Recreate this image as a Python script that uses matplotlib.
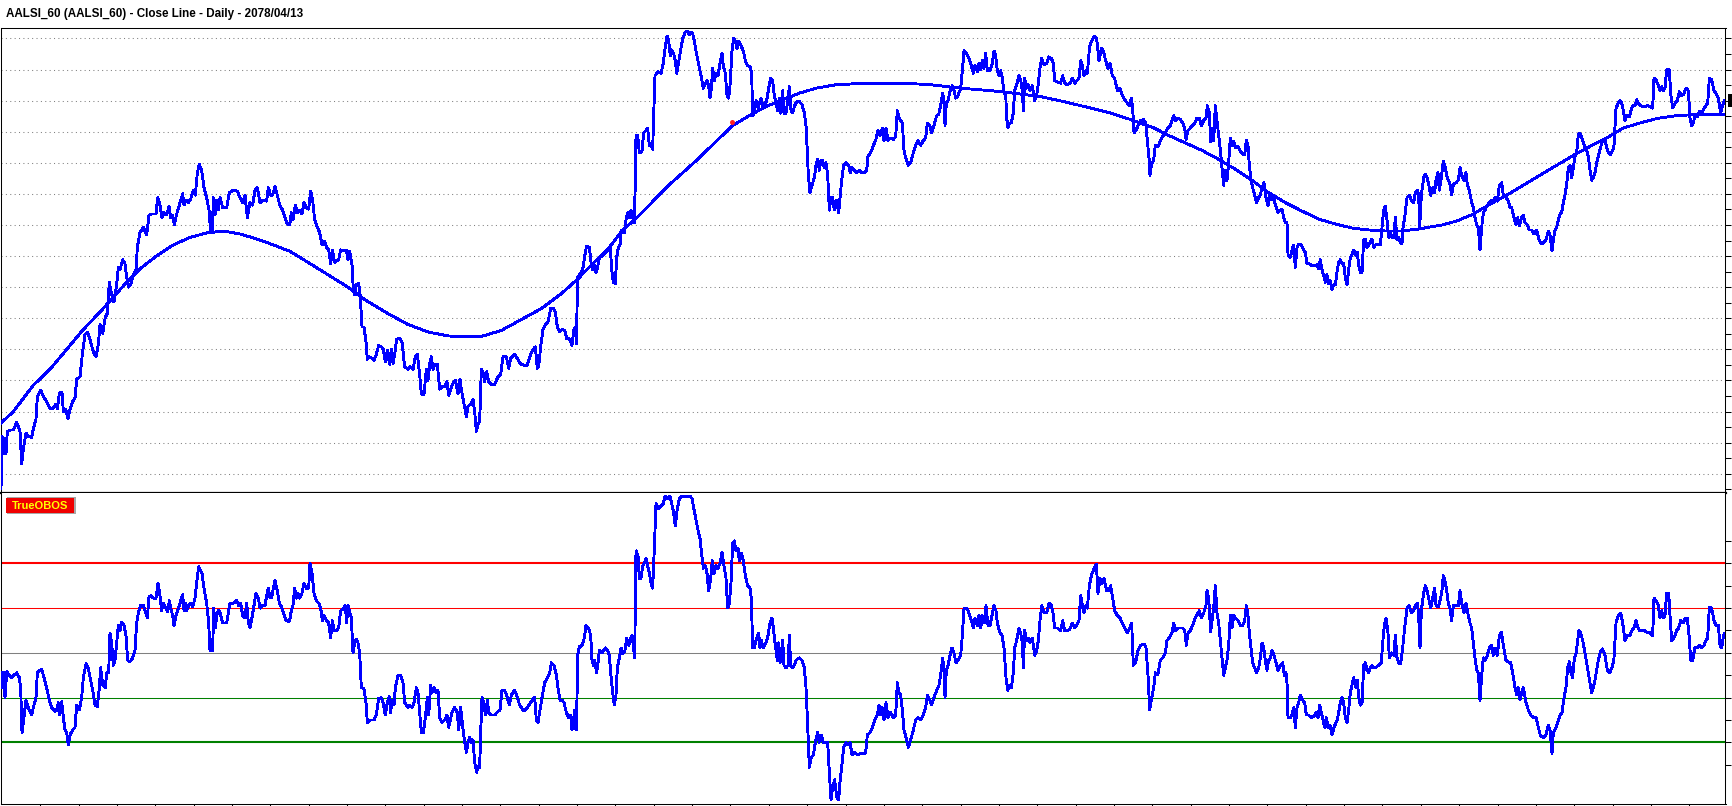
import matplotlib.pyplot as plt
import numpy as np
from matplotlib.patches import Rectangle
from matplotlib.transforms import blended_transform_factory

plt.rcParams['font.family'] = ['Liberation Sans', 'DejaVu Sans']

title = 'AALSI_60 (AALSI_60) - Close Line - Daily - 2078/04/13'
indicator_name = 'TrueOBOS'

# close line: bar number -> close
close_bar = [
    3, 6, 8, 12, 15, 18, 22, 30, 40, 50, 55, 60,
    65, 70, 78, 85, 95, 100, 108, 112, 122, 130, 140, 150,
    160, 168, 172, 178, 186, 190, 197, 204, 210, 218, 225, 230,
    240, 247, 255, 262, 270, 280, 288, 295, 300, 308, 316, 322,
    328, 335, 342, 350, 355, 360, 368, 375, 380, 385, 392, 400,
    408, 412, 420, 430, 440, 447, 455, 468, 473, 480, 486, 492,
    500, 507, 512, 518, 523, 530, 540, 548, 552, 558, 565, 572,
    580, 586, 592, 598, 605, 612, 620, 627, 632, 637, 640, 645,
    650, 655, 660, 668, 680, 688, 700, 712, 720, 728, 735, 742,
    750, 758, 765, 772, 780, 790, 800, 805, 812, 818, 825, 832,
    840, 848, 855, 862,
    869, 874, 879, 886, 892, 899, 906, 912, 919, 926, 932, 938,
    944, 952, 959, 966, 974, 980, 986, 992, 997, 1004, 1010, 1016,
    1022, 1032, 1039, 1044, 1049, 1056, 1060, 1064, 1069, 1076, 1081, 1086,
    1092, 1098, 1102, 1109, 1116, 1122, 1129, 1136, 1144, 1150, 1156, 1162,
    1169, 1174, 1179, 1184, 1190, 1199, 1206, 1214, 1224, 1231, 1239, 1246,
    1252, 1259, 1264, 1272, 1279, 1284, 1289, 1294, 1299, 1304, 1312, 1319,
    1326, 1334, 1341, 1346, 1352, 1359, 1366, 1374, 1380, 1384, 1392, 1399,
    1404, 1412, 1419, 1424, 1429, 1434, 1439, 1444, 1449, 1454, 1460, 1466,
    1474, 1484, 1494, 1502, 1509, 1519, 1526, 1532, 1544, 1554, 1562, 1574,
    1582, 1589, 1599, 1606, 1612, 1616, 1622, 1629, 1636, 1644, 1652, 1659,
    1666, 1672, 1679, 1686, 1694, 1700, 1706, 1712, 1716, 1722, 1726, 1729,
    1733, 1740, 1748, 1756, 1760, 1768, 1773, 1778, 1783, 1788, 1793, 1798,
    1808, 1818, 1826, 1831, 1835, 1840, 1846, 1850, 1855, 1860, 1864, 1873,
    1878, 1883, 1888, 1893, 1898, 1903, 1906, 1908, 1913, 1918, 1926, 1931,
    1938, 1943, 1948, 1953, 1958, 1961, 1965, 1973, 1983, 1990, 1996, 2001,
    2006, 2011, 2015, 2021, 2026, 2030, 2036, 2043, 2048, 2056, 2063, 2068,
    2073, 2078, 2083, 2088, 2094, 2100, 2106, 2110, 2116, 2121, 2126, 2130,
    2134, 2138, 2143, 2148, 2154, 2160, 2166, 2170, 2176, 2181, 2186, 2190,
    2196, 2201, 2206, 2211, 2216, 2223, 2230, 2236, 2243, 2250, 2255, 2258,
    2263, 2268, 2274, 2278, 2283, 2288, 2294, 2300, 2306, 2312, 2318, 2323,
    2328, 2333, 2338, 2342, 2348, 2352, 2358, 2364, 2368, 2373, 2378, 2384,
    2390, 2398, 2406, 2413, 2418, 2421, 2425, 2430, 2436, 2443, 2448, 2453,
    2458, 2463, 2468, 2473, 2478, 2483, 2488, 2493, 2498, 2503, 2510, 2516,
    2520, 2525, 2531, 2538, 2546, 2551, 2556, 2563, 2570, 2578, 2586, 2594,
    2600, 2604, 2612, 2620, 2627, 2634, 2640, 2647, 2652, 2658, 2664, 2672,
    2680, 2687, 2692, 2697, 2702, 2707, 2712, 2717, 2725, 2732, 2740, 2747,
    2754, 2762, 2770, 2777, 2782, 2789, 2795, 2802, 2810, 2816, 2822, 2828,
    2832, 2835, 2839, 2844, 2852, 2857, 2862, 2867, 2874, 2882, 2887, 2892,
    2900, 2907, 2914, 2920, 2925, 2932, 2937, 2942, 2947, 2952, 2957, 2962,
    2970, 2977, 2982, 2987, 2992, 2997, 3002, 3007, 3012, 3017, 3020, 3024,
    3029, 3034, 3040, 3044, 3050, 3057, 3062, 3067, 3070, 3074, 3079, 3084,
    3090, 3097, 3104, 3110, 3114, 3120, 3125, 3132, 3140, 3147, 3154, 3160,
    3164, 3172, 3182, 3188, 3194, 3202, 3210, 3217, 3224, 3230, 3237, 3242,
    3247, 3252, 3257, 3262, 3269, 3277, 3284, 3290, 3297, 3304, 3310, 3317,
    3324, 3330, 3337, 3344, 3352, 3360, 3367, 3374, 3382, 3389, 3394, 3398,
    3402, 3408, 3414, 3422, 3430, 3437, 3442, 3447, 3450, 3454,
    3461, 3466, 3474, 3481, 3488, 3496, 3504, 3511, 3516, 3521, 3526, 3534,
    3541, 3548, 3554, 3558, 3564, 3571, 3578, 3584, 3591, 3598, 3604, 3611,
    3618, 3622, 3628, 3632, 3636, 3641, 3646, 3651, 3656, 3661, 3666, 3671,
    3676, 3681, 3686, 3691, 3696, 3701, 3706, 3714, 3721, 3728, 3734, 3739,
    3744, 3748, 3753, 3758, 3764, 3770, 3776, 3781, 3786, 3792, 3798, 3804,
    3808, 3814, 3820, 3826, 3834, 3841, 3846, 3851, 3856, 3861, 3864, 3871,
    3876, 3881, 3886, 3891, 3896, 3904, 3911, 3916, 3921, 3928, 3936, 3944,
    3951, 3956, 3961, 3966, 3971, 3976, 3981, 3986, 3991, 3996, 4001, 4006,
    4011, 4016, 4021, 4026, 4031, 4036, 4041, 4046, 4051, 4056, 4061, 4068,
    4072, 4076, 4081, 4086, 4091, 4096, 4101, 4106, 4111, 4116, 4121, 4126,
    4134, 4141, 4146, 4151, 4156, 4161, 4166, 4171, 4176, 4181, 4186, 4191,
    4196, 4201, 4206, 4209, 4214, 4221, 4228, 4234, 4241, 4246, 4252, 4256,
    4259, 4264, 4271, 4276, 4281, 4286, 4292, 4298, 4304, 4308, 4314, 4318,
    4325, 4330, 4335, 4340, 4345, 4350, 4355, 4360, 4368, 4375, 4380, 4385,
    4392, 4398, 4402, 4408, 4415, 4420, 4425, 4430, 4435, 4440, 4445, 4450,
    4455, 4460, 4468, 4475, 4480, 4485, 4492, 4498, 4505, 4510, 4518, 4525,
    4530, 4535, 4542, 4548, 4553, 4558, 4565, 4570, 4575, 4582, 4588, 4595,
    4602, 4610, 4617, 4625, 4632, 4638, 4645, 4650, 4656, 4660, 4665, 4670,
    4675, 4680, 4685, 4690, 4695, 4700, 4705, 4710, 4715, 4720, 4725, 4730,
    4735, 4740, 4745, 4750, 4755, 4760, 4765, 4770, 4775, 4780, 4785, 4790,
    4795, 4800, 4807, 4815, 4820, 4825, 4832, 4838, 4842, 4848, 4855, 4860,
    4865, 4870, 4875, 4880, 4888, 4895, 4900, 4905, 4910, 4915, 4920, 4928,
    4935, 4942, 4950, 4958, 4962, 4968, 4975, 4980, 4985, 4990, 4995, 5000,
    5008, 5012, 5018, 5025, 5032, 5038, 5045, 5050, 5058, 5065, 5070, 5075,
    5080, 5085, 5092, 5098, 5105, 5112, 5118, 5123, 5128, 5135, 5142, 5148,
    5155, 5162, 5168, 5173,
]
close = [
    70, 175, 170, 140, 170, 140, 185, 188, 188, 203, 195, 185,
    120, 150, 182, 175, 173, 190, 210, 255, 268, 255, 245, 232,
    232, 240, 230, 262, 264, 225, 230, 210, 230, 245, 252, 290,
    295, 340, 380, 385, 370, 345, 335, 360, 400, 382, 415, 422,
    485, 460, 445, 480, 515, 510, 530, 522, 495, 475, 480, 500,
    510, 555, 585, 595, 580, 620, 622, 622, 655, 640, 615, 625,
    620, 638, 615, 620, 600, 622, 645, 663, 640, 650, 645, 652,
    670, 660, 705, 722, 710, 675, 655, 630, 585, 585, 655, 620,
    650, 630, 655, 635, 635, 665, 670, 668, 655, 645, 660, 615,
    645, 640, 670, 675, 645, 650, 648, 675, 660, 660, 678, 660,
    638, 630, 615, 602,
    600, 625, 610, 640, 625, 630, 622, 645, 635, 632, 668, 650,
    610, 595, 585, 560, 568, 555, 550, 522, 550, 525, 528, 530,
    550, 548, 550, 530, 548, 520, 470, 460, 480, 482, 455, 395,
    395, 365, 330, 335, 332, 328, 340, 358, 355, 350, 325, 348,
    320, 350, 322, 340, 370, 373, 365, 315, 310, 315, 310, 335,
    340, 300, 260, 260, 310, 288, 320, 335, 310, 320, 320, 270,
    275, 275, 285, 258, 270, 282, 288, 260, 290, 270, 240, 215,
    235, 240, 250, 225, 185, 200, 205, 310, 305, 285, 305, 285,
    280, 280, 295, 300, 335, 335, 312, 332, 340, 330, 320, 318,
    318, 335, 350, 355, 312, 315, 355, 390, 400, 405, 432, 433,
    425, 395, 385, 390, 388, 372, 372, 365, 358, 390, 395, 362,
    495, 502, 510, 545, 558, 555, 525, 510, 520, 505, 515, 535,
    538, 545, 552, 555, 510, 485, 482, 535, 555, 560, 590, 585,
    610, 625, 615, 630, 615, 605, 690, 780, 780, 745, 748, 785,
    790, 795, 760, 762, 752, 820, 900, 908, 905, 925, 960, 980,
    970, 940, 952, 945, 930, 905, 928, 955, 975, 988, 990, 982,
    988, 985, 970, 950, 930, 910, 890, 875, 885, 890, 880, 855,
    875, 915, 890, 905, 900, 925, 945, 920, 905, 860, 855, 880,
    950, 975, 970, 955, 970, 960, 950, 930, 920, 918, 905, 820,
    825, 850, 835, 845, 855, 840, 842, 850, 875, 895, 890, 860,
    845, 830, 855, 825, 870, 825, 825, 855, 878, 830, 825, 840,
    848, 848, 842, 825, 800, 760, 700, 665, 680, 695, 720, 732,
    710, 730, 730, 715, 725, 700, 630, 655, 655, 630, 650, 625,
    655, 690, 720, 725, 720, 705, 715, 710, 705, 710, 705, 705,
    710, 738, 745, 760, 770, 790, 780, 795, 770, 795, 770, 775,
    772, 778, 830, 815, 810, 805, 750, 735, 720, 725, 745, 760,
    770, 760, 770, 775, 805, 800, 785, 800, 820, 822, 840, 865,
    850, 800, 845, 850, 875, 880, 870, 855, 860, 875, 910, 950,
    945, 935, 920, 905, 920, 908, 925, 912, 930, 915, 945, 910,
    910, 925, 950, 940, 910, 900, 910, 895, 865, 865, 815, 795,
    805, 805, 825, 870, 882, 900, 892, 870, 830, 895, 875, 882,
    870, 880, 850, 860, 880, 915, 935, 922, 925, 938, 935, 925,
    890, 888, 885, 900, 885, 882, 885, 895, 885, 890, 895, 930,
    920, 900, 910, 905, 960, 972, 980, 975, 930, 955, 950, 930,
    915, 925, 900, 895, 870, 875, 860, 852, 845, 840, 855, 835,
    785, 790, 800, 810, 812, 805, 770, 735, 700, 720,
    730, 760, 757, 770, 778, 785, 795, 800, 810, 820, 810, 815,
    812, 805, 795, 772, 790, 795, 800, 805, 815, 815, 800, 810,
    815, 840, 825, 768, 795, 770, 840, 810, 782, 750, 715, 680,
    710, 690, 725, 775, 760, 768, 755, 758, 748, 742, 742, 770,
    760, 720, 690, 675, 660, 645, 655, 660, 675, 685, 655, 638,
    660, 650, 660, 640, 625, 630, 632, 615, 605, 605, 540, 535,
    550, 560, 515, 555, 562, 560, 550, 545, 522, 522, 518, 518,
    520, 512, 530, 510, 498, 485, 500, 482, 488, 470, 480, 480,
    505, 525, 530, 522, 522, 495, 480, 510, 535, 540, 550, 538,
    545, 520, 505, 505, 570, 572, 555, 560, 565, 572, 555, 560,
    562, 560, 595, 630, 638, 610, 575, 585, 575, 575, 615, 570,
    575, 565, 562, 595, 615, 655, 660, 650, 645, 665, 670, 660,
    595, 660, 695, 702, 695, 682, 660, 675, 665, 690, 705, 670,
    700, 728, 718, 700, 690, 682, 660, 682, 685, 690, 715, 700,
    690, 705, 680, 670, 645, 635, 615, 600, 595, 550, 595, 625,
    630, 638, 645, 650, 645, 655, 648, 680, 685, 660, 655, 648,
    635, 635, 615, 600, 615, 598, 615, 620, 605, 600, 590, 590,
    582, 590, 570, 562, 565, 570, 588, 580, 548, 570, 590, 595,
    610, 622, 625, 645, 660, 682, 715, 720, 695, 715, 738, 745,
    782, 785, 775, 765, 755, 750, 738, 710, 690, 695, 705, 725,
    738, 752, 768, 772, 755, 745, 742, 750, 760, 835, 845, 850,
    845, 830, 810, 820, 818, 835, 840, 840, 852, 845, 840, 838,
    838, 840, 838, 835, 895, 892, 880, 870, 878, 870, 875, 912,
    912, 865, 835, 845, 850, 868, 860, 862, 875, 870, 815, 800,
    805, 820, 818, 828, 822, 835, 840, 845, 895, 892, 870, 865,
    855, 825, 840, 850,
]

# slow smoothed line drawn over the close
trend_bar = [
    0, 40, 100, 150, 200, 250, 300, 340, 380, 420, 470, 520, 570, 620, 670, 720, 770, 820, 870,
    924, 984, 1044, 1094, 1164, 1224, 1284, 1344, 1404, 1444, 1504, 1564, 1624, 1684, 1734,
    1778, 1828, 1868, 1903, 1948, 1998, 2048, 2098, 2148, 2198, 2248, 2298, 2348, 2398, 2448, 2508, 2598,
    2712, 2792, 2882, 2972, 3042, 3122, 3192, 3272, 3332, 3392, 3462,
    3506, 3556, 3606, 3656, 3706, 3756, 3806, 3856, 3906, 3956, 4006, 4056, 4106, 4156, 4206, 4256, 4326,
    4370, 4420, 4470, 4520, 4570, 4620, 4670, 4720, 4770, 4820, 4870, 4920, 4970, 5020, 5080, 5173,
]
trend = [
    200, 225, 278, 310, 350, 390, 425, 455, 485, 512, 538, 560, 575, 584, 588, 582, 572, 560, 547,
    525, 500, 475, 450, 422, 400, 385, 377, 375, 376, 388, 410, 432, 462, 492,
    522, 555, 590, 610, 640, 675, 705, 735, 768, 800, 820, 838, 852, 865, 875, 882, 885,
    885, 882, 875, 870, 865, 858, 848, 835, 825, 812, 795,
    780, 765, 750, 732, 712, 690, 665, 645, 628, 612, 602, 594, 590, 588, 588, 592, 600,
    608, 622, 642, 660, 680, 700, 720, 740, 758, 775, 795, 805, 814, 819, 822, 822,
]

signal_bar = [2195]
signal_price = [807]

# TrueOBOS oscillator
obos_bar = [
    5, 8, 12, 15, 20, 28, 35, 42, 50, 58, 62, 66,
    70, 78, 85, 95, 100, 108, 112, 120, 125, 130, 140, 148,
    155, 165, 170, 175, 178, 185, 190, 195, 200, 205, 210, 218,
    225, 230, 238, 245, 250, 258, 265, 272, 278, 285, 292, 298,
    302, 308, 316, 320, 326, 330, 335, 340, 345, 350, 355, 360,
    365, 372, 378, 383, 390, 398, 405, 410, 415, 422, 430, 437,
    442, 447, 453, 460, 468, 474, 480, 485, 490, 497, 503, 508,
    512, 518, 522, 528, 535, 540, 548, 552, 556, 560, 566, 572,
    578, 585, 590, 596, 600, 606, 612, 620, 626, 630, 638, 641,
    646, 650, 655, 660, 668, 680, 686, 690, 700, 710, 716, 722,
    728, 735, 740, 745, 750, 757, 762, 768, 775, 780, 788, 795,
    800, 805, 810, 815, 820, 825, 832, 838, 845, 850, 858, 866,
    869, 874, 879, 884, 889, 894, 899, 906, 912, 919, 926, 930,
    936, 942, 949, 956, 962, 967, 972, 979, 986, 992, 997, 1002,
    1009, 1016, 1022, 1029, 1036, 1040, 1044, 1048, 1054, 1059, 1064, 1069,
    1074, 1079, 1084, 1092, 1098, 1102, 1109, 1116, 1122, 1129, 1136, 1144,
    1149, 1156, 1162, 1168, 1172, 1176, 1182, 1186, 1194, 1202, 1209, 1214,
    1224, 1229, 1236, 1242, 1249, 1254, 1259, 1264, 1270, 1276, 1282, 1286,
    1292, 1296, 1302, 1309, 1314, 1319, 1326, 1334, 1341, 1346, 1351, 1356,
    1364, 1372, 1376, 1382, 1386, 1392, 1399, 1404, 1409, 1414, 1419, 1424,
    1430, 1434, 1439, 1442, 1446, 1452, 1456, 1462, 1466, 1474, 1484, 1494,
    1500, 1506, 1514, 1522, 1528, 1534, 1544, 1552, 1559, 1569, 1576, 1582,
    1592, 1600, 1604, 1609, 1614, 1620, 1626, 1634, 1642, 1649, 1654, 1662,
    1669, 1674, 1680, 1686, 1692, 1699, 1706, 1712, 1716, 1720, 1724, 1727,
    1729, 1731,
    1733, 1738, 1746, 1753, 1758, 1766, 1772, 1776, 1780, 1784, 1790, 1794,
    1798, 1806, 1816, 1823, 1828, 1832, 1838, 1843, 1848, 1852, 1858, 1863,
    1868, 1875, 1880, 1886, 1890, 1896, 1900, 1904, 1906, 1908, 1914, 1918,
    1923, 1928, 1933, 1938, 1943, 1948, 1953, 1958, 1963, 1968, 1976, 1983,
    1990, 1995, 2003, 2010, 2015, 2020, 2026, 2031, 2038, 2046, 2053, 2063,
    2070, 2076, 2083, 2090, 2096, 2100, 2104, 2110, 2116, 2121, 2126, 2132,
    2137, 2142, 2148, 2154, 2160, 2166, 2172, 2178, 2183, 2188, 2193, 2198,
    2203, 2208, 2214, 2218, 2224, 2230, 2236, 2243, 2250, 2254, 2258, 2263,
    2270, 2276, 2280, 2284, 2290, 2298, 2304, 2310, 2316, 2320, 2326, 2332,
    2336, 2340, 2344, 2348, 2352, 2358, 2364, 2368, 2372, 2376, 2383, 2388,
    2398, 2406, 2413, 2418, 2422, 2428, 2434, 2440, 2446, 2453, 2458, 2464,
    2470, 2476, 2483, 2488, 2493, 2498, 2504, 2510, 2516, 2520, 2525, 2531,
    2538, 2544, 2550, 2556, 2564, 2573, 2583, 2594,
    2597, 2602, 2610, 2617, 2624, 2632, 2637, 2642, 2647, 2652, 2658, 2664,
    2672, 2680, 2687, 2692, 2697, 2702, 2707, 2712, 2718, 2725, 2732, 2740,
    2747, 2754, 2762, 2770, 2777, 2782, 2789, 2795, 2802, 2810, 2817, 2822,
    2828, 2832, 2835, 2839, 2844, 2850, 2856, 2862, 2868, 2874, 2882, 2887,
    2892, 2900, 2907, 2914, 2920, 2925, 2932, 2937, 2942, 2947, 2954, 2958,
    2964, 2970, 2976, 2982, 2988, 2992, 3000, 3006, 3012, 3018, 3023, 3028,
    3034, 3040, 3044, 3050, 3057, 3062, 3067, 3070, 3074, 3079, 3084, 3090,
    3097, 3104, 3110, 3115, 3120, 3125, 3132, 3140, 3147, 3154, 3159, 3164,
    3172, 3182, 3188, 3194, 3202, 3210, 3217, 3224, 3230, 3237, 3242, 3247,
    3252, 3257, 3262, 3268, 3274, 3282, 3289, 3294, 3300, 3306, 3312, 3320,
    3327, 3332, 3338, 3344, 3352, 3360, 3367, 3374, 3382, 3389, 3395, 3400,
    3407, 3414, 3422, 3432, 3438, 3444, 3449, 3454,
    3461, 3466, 3474, 3481, 3488, 3496, 3501, 3508, 3516, 3521, 3526, 3534,
    3541, 3548, 3554, 3559, 3564, 3571, 3578, 3586, 3594, 3598, 3604, 3611,
    3618, 3621, 3626, 3632, 3636, 3641, 3646, 3651, 3656, 3661, 3666, 3671,
    3676, 3681, 3686, 3691, 3696, 3701, 3706, 3714, 3721, 3728, 3734, 3739,
    3744, 3748, 3753, 3758, 3764, 3770, 3776, 3781, 3786, 3791, 3796, 3801,
    3806, 3811, 3816, 3822, 3828, 3834, 3841, 3848, 3853, 3858, 3861, 3864,
    3871, 3876, 3881, 3886, 3891, 3896, 3901, 3908, 3914, 3919, 3926, 3934,
    3941, 3948, 3954, 3959, 3964, 3969, 3974, 3979, 3984, 3990, 3996, 4002,
    4008, 4012, 4016, 4021, 4026, 4031, 4036, 4041, 4046, 4051, 4056, 4061,
    4068, 4072, 4076, 4081, 4086, 4091, 4096, 4101, 4106, 4111, 4116, 4121,
    4126, 4136, 4144, 4148, 4153, 4158, 4164, 4168, 4174, 4181, 4186, 4191,
    4196, 4202, 4208, 4214, 4221, 4228, 4234, 4241, 4246, 4252, 4256, 4260,
    4264, 4271, 4276, 4281, 4286, 4292, 4298, 4304, 4308, 4314, 4318,
    4325, 4330, 4335, 4340, 4345, 4350, 4355, 4360, 4368, 4375, 4380, 4385,
    4392, 4398, 4405, 4410, 4415, 4420, 4425, 4430, 4435, 4440, 4445, 4450,
    4456, 4462, 4468, 4475, 4480, 4485, 4492, 4498, 4504, 4510, 4518, 4525,
    4532, 4538, 4545, 4550, 4555, 4560, 4565, 4570, 4578, 4585, 4592, 4600,
    4608, 4615, 4622, 4630, 4638, 4645, 4650, 4656, 4660, 4668, 4675, 4680,
    4686, 4692, 4698, 4703, 4708, 4713, 4718, 4723, 4728, 4732, 4737, 4742,
    4748, 4755, 4760, 4765, 4770, 4775, 4780, 4785, 4790, 4795, 4800, 4807,
    4815, 4822, 4830, 4838, 4842, 4848, 4855, 4862, 4868, 4875, 4882, 4890,
    4896, 4902, 4908, 4912, 4918, 4925, 4932, 4940, 4950, 4958, 4962, 4968,
    4975, 4980, 4985, 4990, 4995, 5000, 5006, 5010, 5015, 5022, 5030, 5036,
    5042, 5050, 5056, 5062, 5068, 5072, 5078, 5085, 5092, 5098, 5105, 5112,
    5118, 5123, 5128, 5135, 5142, 5148, 5155, 5160, 5165, 5170, 5173,
]
obos = [
    -40, -70, -40, -90, -38, -45, -50, -45, -40, -50, -70, -160,
    -140, -95, -110, -125, -110, -90, -40, -35, -33, -45, -70, -95,
    -110, -118, -115, -100, -125, -98, -130, -155, -160, -185, -165, -155,
    -150, -105, -115, -90, -50, -22, -32, -55, -75, -105, -108, -70,
    -30, -65, -70, -40, -40, 40, 20, -25, -15, 20, 55, 45,
    62, 55, 35, -15, -18, -10, 5, 60, 80, 95, 95, 80,
    70, 112, 115, 110, 110, 140, 115, 85, 100, 90, 82, 105,
    90, 75, 55, 75, 90, 100, 117, 85, 100, 85, 95, 100,
    92, 110, 140, 173, 168, 160, 130, 100, 60, 5, 5, 90,
    50, 75, 85, 82, 60, 60, 85, 100, 100, 105, 95, 100,
    75, 70, 100, 60, 50, 75, 95, 120, 110, 90, 95, 95,
    115, 130, 110, 112, 130, 145, 125, 100, 92, 80, 65, 63,
    65, 85, 95, 130, 110, 120, 110, 120, 140, 130, 130, 180,
    160, 120, 105, 100, 90, 65, 75, 65, 60, 30, 65, 45,
    45, 50, 85, 88, 95, 60, 95, 85, 70, 0, 20, 28,
    20, 0, -70, -72, -100, -140, -135, -135, -135, -125, -92, -90,
    -100, -125, -100, -88, -120, -95, -105, -70, -45, -45, -60, -100,
    -110, -105, -110, -100, -70, -80, -120, -160, -160, -130, -90, -125,
    -65, -80, -70, -80, -75, -130, -140, -135, -125, -150, -135, -120,
    -110, -120, -155, -110, -135, -170, -200, -180, -170, -180, -175, -220,
    -240, -228, -230, -160, -90, -100, -125, -95, -120, -125, -125, -118,
    -115, -75, -75, -90, -105, -85, -75, -90, -105, -115, -115, -110,
    -100, -92, -90, -135, -140, -115, -90, -60, -50, -40, -20, -25,
    -45, -70, -95, -95, -100, -120, -130, -125, -155, -140, -115, -152,
    -155, -90,
    -5, 12, 15, 30, 55, 50, 35, -15, -25, -15, -40, -20,
    5, 0, 10, 5, -5, -40, -80, -105, -85, -30, -10, 10,
    -2, 5, 30, 15, 25, 35, 15, -10, 100, 205, 195, 150,
    150, 175, 180, 190, 175, 160, 140, 130, 210, 300, 290, 295,
    300, 315, 310, 315, 300, 285, 255, 285, 310, 315, 315, 315,
    315, 310, 285, 260, 240, 230, 205, 170, 175, 160, 125, 150,
    185, 160, 175, 170, 180, 202, 175, 150, 90, 100, 140, 220,
    225, 205, 210, 185, 200, 185, 155, 135, 130, 110, 10, 10,
    30, 40, 10, 25, 10, 20, 35, 60, 70, 50, 15, -15,
    20, -20, 0, 25, -25, -30, -25, 35, -25, -30, -25, -15,
    -10, -15, -30, -70, -130, -230, -210, -205, -180, -160, -180, -165,
    -180, -180, -180, -240, -295, -270, -255, -290, -295, -260, -230, -190,
    -180, -185, -180, -205, -200, -205, -202, -202,
    -200, -165, -160, -150, -135, -125, -105, -125, -110, -135, -100, -130,
    -120, -130, -125, -60, -80, -85, -115, -155, -170, -190, -175, -155,
    -135, -130, -135, -125, -110, -85, -95, -105, -90, -75, -65, -45,
    -10, -35, -90, -35, -25, -5, 10, 0, -20, -15, -5, 35,
    90, 90, 80, 65, 50, 70, 55, 75, 50, 75, 60, 95,
    55, 55, 75, 95, 85, 60, 40, 35, 10, -50, -75, -65,
    -70, -40, 10, 25, 50, 40, 20, -30, 45, 25, 30, 20,
    30, -5, 5, 25, 65, 95, 80, 80, 100, 95, 80, 50,
    50, 45, 65, 45, 45, 48, 60, 50, 55, 65, 115, 95,
    80, 95, 90, 135, 155, 170, 178, 120, 150, 140, 150, 125,
    125, 135, 110, 85, 75, 70, 60, 50, 40, 50, 60, -25,
    -20, 5, 15, 18, 10, -45, -115, -95,
    -70, -40, -43, -15, -10, 0, 25, 30, 40, 60, 45, 50,
    50, 50, 45, 15, 40, 45, 55, 70, 80, 85, 70, 80,
    95, 125, 110, 42, 65, 90, 135, 80, 60, 25, -10, -45,
    -30, -15, 15, 75, 50, 75, 70, 65, 55, 55, 65, 95,
    75, 40, 10, -20, -30, -40, -30, -10, 20, 10, -15, -35,
    -15, -10, 5, -5, -20, -35, -25, -20, -45, -40, -60, -130,
    -130, -125, -110, -150, -110, -100, -85, -95, -100, -125, -125, -130,
    -128, -120, -130, -105, -120, -135, -150, -130, -150, -145, -165, -150,
    -140, -135, -120, -100, -90, -100, -130, -140, -115, -80, -65, -50,
    -70, -55, -90, -105, -102, -25, -20, -35, -40, -30, -25, -30,
    -30, -25, -20, 20, 55, 70, 40, -10, 0, -5, 35, -10,
    -20, -22, 10, 50, 90, 95, 80, 85, 95, 100, 75, 10,
    85, 120, 135, 125, 110, 90, 110, 130, 95, 92, 100,
    120, 155, 145, 125, 100, 90, 65, 95, 95, 95, 125, 100,
    80, 100, 75, 60, 50, 20, -10, -35, -40, -95, -45, -10,
    -15, -5, 10, 15, -5, 10, -5, 35, 42, 15, -15, -18,
    -20, -40, -70, -85, -70, -95, -80, -70, -100, -115, -125, -130,
    -130, -150, -168, -170, -165, -145, -155, -202, -160, -150, -135, -125,
    -120, -90, -70, -30, -18, -40, -50, -10, -2, 20, 45, 40,
    25, 0, -20, -40, -60, -80, -70, -55, -35, -15, 0, 8,
    -5, -35, -40, -25, -10, 60, 75, 80, 60, 25, 35, 35,
    45, 50, 65, 55, 45, 45, 45, 42, 40, 35, 110, 105,
    95, 70, 85, 70, 75, 120, 120, 75, 25, 30, 45, 50,
    65, 60, 70, 70, 30, -15, -15, 12, 10, 15, 10, 15,
    25, 30, 92, 90, 65, 55, 55, 15, 10, 32, 38,
]
obos_levels = [180, 90, 0, -90, -180]
level_colors = ['#ff0000', '#ff0000', '#808080', '#008000', '#008000']
level_widths = [1.5, 0.75, 0.75, 0.75, 1.5]

W, H = 1733, 806
fig = plt.figure(figsize=(W / 100, H / 100), dpi=100)


def box(x0, y0, x1, y1):
    # pixel box measured from the top left -> figure fraction rect
    return [x0 / W, 1 - y1 / H, (x1 - x0) / W, (y1 - y0) / H]


ax = fig.add_axes(box(1.5, 28, 1725.5, 493))
ax2 = fig.add_axes(box(1.5, 493, 1725.5, 804))
blue = '#0000ff'

# price panel
ax.plot(close_bar, close, color=blue, lw=1.35, antialiased=False, zorder=3)
ax.plot(trend_bar, trend, color=blue, lw=1.35, antialiased=False, zorder=3)
ax.plot(signal_bar, signal_price, 'o', color='#ff2020', ms=3.6, mec='none', zorder=4)
ax.set_xlim(4.5, 5176.5)
ax.set_ylim(61.3, 996)
ax.set_yticks(np.arange(100, 976, 62.5))
ax.set_yticks(np.arange(68.75, 976, 62.5), minor=True)
ax.grid(axis='y', which='major', color='#808080', lw=0.75, ls=(0, (1, 3.2)))
ax.yaxis.tick_right()
ax.tick_params(axis='y', which='both', direction='out', length=4, width=0.75,
               labelright=False, colors='black')
ax.tick_params(axis='x', bottom=False, labelbottom=False)
for side in ['top', 'left', 'right']:
    ax.spines[side].set_linewidth(0.75)
ax.spines['bottom'].set_linewidth(1.6)

# last price marker at the right edge
tr = blended_transform_factory(ax.transAxes, ax.transData)
ax.add_patch(Rectangle((1.0015, close[-1] - 12.5), 0.003, 25, transform=tr,
                       facecolor='black', edgecolor='none', clip_on=False))

# oscillator panel
for lvl, c, lw in zip(obos_levels, level_colors, level_widths):
    ax2.axhline(lvl, color=c, lw=lw, zorder=1)
ax2.plot(obos_bar, obos, color=blue, lw=1.35, antialiased=False, zorder=3)
ax2.set_xlim(4.5, 5176.5)
ax2.set_ylim(-303.8, 321.3)
ax2.set_yticks(np.arange(-225, 226, 45))
ax2.yaxis.tick_right()
ax2.tick_params(axis='y', direction='out', length=4, width=0.75, labelright=False)
ax2.set_xticks(np.arange(120.6, 5176, 115.05))
ax2.tick_params(axis='x', direction='out', length=4, width=0.75, labelbottom=False)
ax2.spines['top'].set_visible(False)
for side in ['bottom', 'left', 'right']:
    ax2.spines[side].set_linewidth(0.75)

# indicator tag
shadow = box(7, 497, 76, 514)
tag = box(6, 498, 74, 513)
fig.add_artist(Rectangle((shadow[0], shadow[1]), shadow[2], shadow[3],
                         transform=fig.transFigure, facecolor='#a8a8a8', edgecolor='none'))
fig.add_artist(Rectangle((tag[0], tag[1]), tag[2], tag[3],
                         transform=fig.transFigure, facecolor='#f00000', edgecolor='none'))
fig.text(40 / W, 1 - 505.8 / H, indicator_name, color='#ffff00', fontsize=8,
         fontweight='bold', ha='center', va='center')

fig.text(6 / W, 1 - 17.3 / H, title, fontsize=8.4, fontweight='bold', va='baseline')

fig.savefig('out.png', dpi=100)
